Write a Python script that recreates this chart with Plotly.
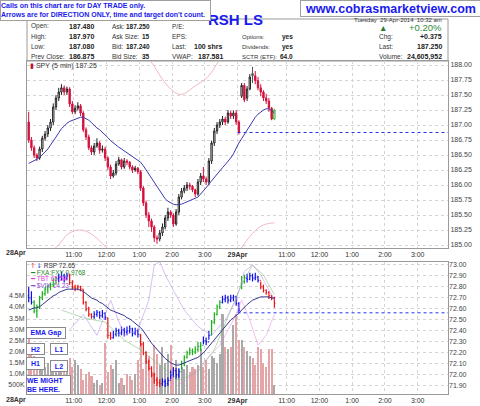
import plotly.graph_objects as go

# ---------------- data ----------------
spy_open = [
187.05,186.75,186.62,186.50,186.45,186.60,186.78,186.85,186.95,187.05,
187.30,187.45,187.55,187.62,187.55,187.60,187.35,187.22,187.28,187.32,
187.20,186.92,186.80,186.62,186.55,186.65,186.70,186.58,186.60,186.45,
186.30,186.15,186.20,186.35,186.42,186.30,186.40,186.38,186.30,186.25,
186.28,186.22,185.95,185.70,185.50,185.40,185.30,185.12,185.10,185.20,
185.30,185.45,185.55,185.50,185.35,185.55,185.80,185.90,185.95,186.00,
185.98,185.92,185.85,186.05,186.15,186.10,186.05,186.40,186.70,186.90,
187.00,187.05,187.10,187.05,187.20,187.15,187.20,187.05,
187.48,187.66,187.45,187.60,187.86,187.82,187.74,187.62,187.55,187.45,187.40,187.28,187.10]
spy_high = [
187.22,186.80,186.66,186.53,186.64,186.82,186.90,187.00,187.10,187.36,
187.50,187.62,187.68,187.66,187.64,187.63,187.40,187.33,187.38,187.35,
187.23,186.96,186.84,186.66,186.70,186.78,186.73,186.66,186.64,186.48,
186.34,186.25,186.40,186.47,186.44,186.45,186.43,186.40,186.33,186.32,
186.30,186.25,185.98,185.74,185.55,185.44,185.33,185.16,185.25,185.36,
185.50,185.62,185.58,185.53,185.60,185.85,185.95,186.00,186.05,186.04,
186.00,185.94,186.10,186.20,186.30,186.14,186.45,186.74,186.95,187.05,
187.10,187.15,187.14,187.25,187.24,187.24,187.25,187.08,
187.70,187.70,187.65,187.85,187.97,187.90,187.80,187.68,187.58,187.52,187.45,187.30,187.27]
spy_low = [
186.70,186.57,186.45,186.40,186.42,186.55,186.74,186.80,186.90,187.00,
187.25,187.40,187.50,187.50,187.50,187.30,187.18,187.18,187.24,187.15,
186.88,186.75,186.58,186.50,186.50,186.62,186.52,186.54,186.40,186.25,
186.10,186.12,186.16,186.32,186.26,186.27,186.33,186.26,186.20,186.22,
186.18,185.90,185.65,185.45,185.30,185.22,185.05,185.02,185.06,185.15,
185.26,185.40,185.45,185.30,185.32,185.50,185.76,185.86,185.90,185.92,
185.88,185.80,185.82,186.00,186.05,186.00,186.00,186.35,186.65,186.85,
186.95,187.00,187.00,187.02,187.10,187.10,187.00,186.84,
187.45,187.38,187.40,187.58,187.70,187.68,187.58,187.48,187.40,187.35,187.22,187.08,187.08]
spy_close = [
186.75,186.62,186.50,186.45,186.60,186.78,186.85,186.95,187.05,187.30,
187.45,187.55,187.62,187.55,187.60,187.35,187.22,187.28,187.32,187.20,
186.92,186.80,186.62,186.55,186.65,186.70,186.58,186.60,186.45,186.30,
186.15,186.20,186.35,186.42,186.30,186.40,186.38,186.30,186.25,186.28,
186.22,185.95,185.70,185.50,185.40,185.30,185.12,185.10,185.20,185.30,
185.45,185.55,185.50,185.35,185.55,185.80,185.90,185.95,186.00,185.98,
185.92,185.85,186.05,186.15,186.10,186.05,186.40,186.70,186.90,187.00,
187.05,187.10,187.05,187.20,187.15,187.20,187.05,186.88,
187.66,187.42,187.60,187.80,187.82,187.74,187.62,187.55,187.45,187.40,187.28,187.10,187.25]
spy_ema = [
186.36,186.38,186.41,186.43,186.46,186.50,186.55,186.60,186.66,186.73,
186.80,186.87,186.94,186.98,187.03,187.06,187.08,187.09,187.11,187.13,
187.13,187.11,187.08,187.04,186.99,186.95,186.92,186.88,186.84,186.79,
186.74,186.70,186.66,186.63,186.60,186.57,186.54,186.51,186.48,186.45,
186.42,186.38,186.32,186.25,186.18,186.10,186.03,185.96,185.89,185.82,
185.77,185.73,185.70,185.68,185.67,185.67,185.68,185.70,185.72,185.74,
185.75,185.77,185.80,185.85,185.90,185.96,186.01,186.07,186.13,186.19,
186.24,186.29,186.34,186.39,186.45,186.52,186.62,186.70,
186.77,186.84,186.92,187.00,187.07,187.13,187.18,187.22,187.25,187.27,187.27,187.24,187.20]
spy_prev_close = 186.875

# faint band segments (None = break)
band_up_bar = [44, 46, 48, 50, 52, 54, 56, 58, 60, 62, 64, 66, 68, 70]
band_up_val = [188.10, 187.98, 187.83, 187.70, 187.60, 187.53, 187.51, 187.55, 187.62, 187.68, 187.74, 187.82, 187.95, 188.10]
band_lo_bar = [8, 11, 14, 17, 19, 21, 24, 27, 30, None, 77, 79, 81, 83, 85, 87, 90]
band_lo_val = [184.90, 185.00, 185.17, 185.24, 185.25, 185.23, 185.15, 185.02, 184.90, None, 184.88, 185.02, 185.14, 185.24, 185.31, 185.35, 185.37]

rsp_open = [
72.72,72.70,72.66,72.58,72.62,72.70,72.74,72.78,72.80,72.82,
72.86,72.88,72.89,72.90,72.88,72.90,72.84,72.80,72.79,72.80,
72.78,72.66,72.60,72.55,72.53,72.55,72.57,72.54,72.56,72.52,
72.36,72.34,72.37,72.40,72.38,72.41,72.39,72.40,72.42,72.38,
72.40,72.37,72.28,72.20,72.12,72.06,72.00,71.95,71.93,71.92,
71.94,71.92,71.95,72.00,72.04,72.00,72.03,72.10,72.16,72.20,
72.22,72.21,72.23,72.26,72.27,72.31,72.30,72.36,72.48,72.55,
72.62,72.66,72.69,72.70,72.68,72.70,72.71,72.65,
72.80,72.85,72.88,72.87,72.90,72.88,72.89,72.86,72.80,72.77,72.75,72.72,72.70]
rsp_high = [
72.80,72.76,72.68,72.64,72.72,72.76,72.80,72.82,72.84,72.88,
72.90,72.92,72.94,72.92,72.93,72.92,72.86,72.82,72.82,72.81,
72.78,72.67,72.62,72.56,72.58,72.59,72.58,72.59,72.57,72.52,
72.39,72.40,72.43,72.42,72.44,72.43,72.44,72.45,72.43,72.43,
72.42,72.37,72.30,72.21,72.14,72.08,72.02,71.98,71.96,71.97,
71.96,71.98,72.04,72.07,72.06,72.06,72.13,72.18,72.22,72.25,
72.24,72.26,72.30,72.30,72.35,72.34,72.40,72.50,72.57,72.64,
72.68,72.72,72.73,72.72,72.73,72.73,72.72,72.66,
72.90,72.91,72.92,72.93,72.92,72.93,72.90,72.85,72.82,72.78,72.76,72.73,72.71]
rsp_low = [
72.66,72.64,72.56,72.52,72.60,72.68,72.72,72.74,72.77,72.80,
72.82,72.84,72.86,72.84,72.86,72.82,72.78,72.76,72.77,72.76,
72.64,72.58,72.53,72.51,72.51,72.53,72.51,72.52,72.50,72.33,
72.32,72.33,72.35,72.35,72.36,72.35,72.36,72.38,72.35,72.36,
72.34,72.26,72.18,72.10,72.04,71.98,71.92,71.90,71.89,71.90,
71.89,71.90,71.96,71.98,71.96,71.97,72.05,72.08,72.15,72.18,
72.18,72.19,72.21,72.22,72.28,72.27,72.32,72.36,72.46,72.54,
72.60,72.65,72.66,72.65,72.66,72.67,72.63,72.57,
72.78,72.83,72.84,72.86,72.85,72.86,72.84,72.78,72.75,72.73,72.69,72.68,72.61]
rsp_close = [
72.70,72.66,72.58,72.62,72.70,72.74,72.78,72.80,72.82,72.86,
72.88,72.89,72.90,72.88,72.90,72.84,72.80,72.79,72.80,72.78,
72.66,72.60,72.55,72.53,72.55,72.57,72.54,72.56,72.52,72.36,
72.34,72.37,72.40,72.38,72.41,72.39,72.40,72.42,72.38,72.40,
72.37,72.28,72.20,72.12,72.06,72.00,71.95,71.93,71.92,71.94,
71.92,71.95,72.00,72.04,72.00,72.03,72.10,72.16,72.20,72.22,
72.21,72.23,72.26,72.27,72.31,72.30,72.36,72.48,72.55,72.62,
72.66,72.69,72.70,72.68,72.70,72.71,72.65,72.59,
72.85,72.88,72.87,72.90,72.88,72.89,72.86,72.80,72.77,72.75,72.72,72.70,72.65]
rsp_impulse = ("bbgggggggg" "gbbbbrrrrr" "rrrrbbbbbr" "rbbbbbbbbb" "brrrrrrrrb"
               "bbbbbbgggg" "ggggbbbggg" "gbbbbbbb" "ggbbbbbrrrrrr")
rsp_ema = [
72.59,72.60,72.61,72.61,72.62,72.64,72.66,72.68,72.70,72.72,
72.73,72.75,72.76,72.77,72.78,72.78,72.78,72.78,72.78,72.77,
72.76,72.74,72.72,72.70,72.69,72.68,72.66,72.65,72.63,72.61,
72.59,72.58,72.57,72.56,72.55,72.54,72.52,72.51,72.49,72.47,
72.45,72.43,72.40,72.36,72.33,72.29,72.26,72.23,72.20,72.18,
72.15,72.13,72.11,72.10,72.09,72.09,72.10,72.11,72.12,72.13,
72.14,72.15,72.16,72.18,72.20,72.23,72.26,72.29,72.33,72.36,
72.39,72.42,72.45,72.48,72.50,72.52,72.54,72.56,
72.59,72.62,72.64,72.66,72.68,72.69,72.70,72.71,72.71,72.71,72.71,72.70,72.70]
rsp_prev_close = 72.565
volume_m = [
2.6,2.0,1.8,1.6,1.5,1.4,1.3,1.5,1.2,1.6,
1.4,1.3,1.5,1.2,1.4,1.7,1.3,1.6,1.4,1.2,
0.7,1.0,1.1,0.9,0.6,0.7,0.5,0.6,2.4,1.1,
1.4,1.2,1.6,0.6,0.8,0.5,1.0,0.9,0.7,1.0,
1.6,2.4,1.2,2.0,1.8,1.1,2.3,1.9,1.4,2.2,
1.5,1.9,2.3,1.3,1.6,1.2,1.3,1.2,1.4,1.1,
1.3,1.2,1.4,2.1,1.3,1.6,1.2,1.8,1.7,1.5,
1.9,3.7,2.2,2.1,2.2,3.2,3.7,2.5,
2.5,2.2,2.0,1.8,1.7,1.4,2.2,2.1,1.5,1.3,2.1,2.1,0.5]

# overlay comparison lines (RSP-scale equivalents)
vix_bar = [15, 20, 25, 30, 35, 40, 44, 46, 48, 50, 53, 57, 62, 67, 72, 76, 79, 82, 85, 88, 90]
vix_val = [72.41, 72.55, 72.36, 72.68, 72.36, 72.41, 72.68, 73.00, 73.03, 72.91, 72.77, 72.59, 72.44, 72.36, 72.50, 72.68, 72.94, 73.00, 72.91, 72.77, 72.68]
tbt_bar = [55, 60, 65, 70, 75, 78, 81, 84, 87, 90]
tbt_val = [71.91, 72.00, 72.14, 72.27, 72.50, 72.68, 72.50, 72.27, 72.36, 72.55]
fx_bar = [12, 20, 28, 35, 42, 48, 55, 62, 68, 74, 78, 82, 86, 90]
fx_val = [72.59, 72.52, 72.48, 72.32, 72.21, 72.09, 71.95, 72.03, 72.23, 72.59, 72.82, 73.00, 72.91, 72.73]

bars = list(range(len(spy_close)))
tick_bar = [18, 30, 42, 54, 66, 78, 96, 108, 120, 132, 144]
tick_text = ['11:00', '12:00', '1:00', '2:00', '3:00', '<b>29Apr</b>',
             '11:00', '12:00', '1:00', '2:00', '3:00']
tick_pos = [b - 1.5 for b in tick_bar]
X_RANGE = [-0.62, 153.6]
day2_start = 78 - 1.5

# ---------------- geometry helpers ----------------
W, H = 480, 406
PL, PR = 27, 448
FONT = 'Liberation Sans, Arial, sans-serif'


def fx(x):
    return (x - PL) / (PR - PL)


def fy(y):
    return 1 - y / H


fig = go.Figure()

# ---------------- top panel (SPY) ----------------
fig.add_trace(go.Scatter(x=band_up_bar, y=band_up_val, mode='lines',
                         line=dict(color='#f2b8c2', width=1, shape='spline'),
                         xaxis='x', yaxis='y', hoverinfo='skip', showlegend=False))
fig.add_trace(go.Scatter(x=band_lo_bar, y=band_lo_val, mode='lines', connectgaps=False,
                         line=dict(color='#f2b8c2', width=1, shape='spline'),
                         xaxis='x', yaxis='y', hoverinfo='skip', showlegend=False))
fig.add_trace(go.Scatter(x=[day2_start, X_RANGE[1]], y=[spy_prev_close] * 2, mode='lines',
                         line=dict(color='#2233ee', width=1, dash='dot'),
                         xaxis='x', yaxis='y', hoverinfo='skip', showlegend=False))
fig.add_trace(go.Scatter(x=bars, y=spy_ema, mode='lines',
                         line=dict(color='#3a3ab0', width=1),
                         xaxis='x', yaxis='y', hoverinfo='skip', showlegend=False))

# split candles by style: hollow (up), red filled (down vs prev), gray filled
groups = {'hollow': ([], [], [], [], []), 'red': ([], [], [], [], []),
          'gray': ([], [], [], [], []), 'last': ([], [], [], [], [])}
for i in bars:
    o, h, l, c = spy_open[i], spy_high[i], spy_low[i], spy_close[i]
    prev = spy_close[i - 1] if i > 0 else o
    if i == bars[-1]:
        k = 'last'
    elif c >= o:
        k = 'hollow'
    elif c < prev:
        k = 'red'
    else:
        k = 'gray'
    g = groups[k]
    g[0].append(i); g[1].append(o); g[2].append(h); g[3].append(l); g[4].append(c)

styles = {
    'hollow': ('#222222', '#ffffff'),
    'red': ('#d4103c', '#d4103c'),
    'gray': ('#555555', '#9a9a9a'),
    'last': ('#33bb33', '#ffffff'),
}
for k, g in groups.items():
    if not g[0]:
        continue
    lc, fc = styles[k]
    fig.add_trace(go.Candlestick(
        x=g[0], open=g[1], high=g[2], low=g[3], close=g[4],
        increasing=dict(line=dict(color=lc, width=1), fillcolor=fc),
        decreasing=dict(line=dict(color=lc, width=1), fillcolor=fc),
        whiskerwidth=0, xaxis='x', yaxis='y', hoverinfo='skip', showlegend=False))

# ---------------- bottom panel (RSP + volume) ----------------
vol_colors = ['#e3a5a8' if spy_close[i] < spy_open[i] else '#a9a9a9' for i in bars]
fig.add_trace(go.Bar(x=bars, y=volume_m, marker=dict(color=vol_colors, line=dict(width=0)),
                     width=0.75, xaxis='x2', yaxis='y2', hoverinfo='skip', showlegend=False))

for vals_x, vals_y, col in [(fx_bar, fx_val, 'rgba(120,190,120,0.55)'),
                            (tbt_bar, tbt_val, 'rgba(235,130,220,0.5)'),
                            (vix_bar, vix_val, 'rgba(190,150,235,0.6)')]:
    fig.add_trace(go.Scatter(x=vals_x, y=vals_y, mode='lines',
                             line=dict(color=col, width=1),
                             xaxis='x2', yaxis='y3', hoverinfo='skip', showlegend=False))

fig.add_trace(go.Scatter(x=[day2_start, X_RANGE[1]], y=[rsp_prev_close] * 2, mode='lines',
                         line=dict(color='#2233ee', width=1, dash='dot'),
                         xaxis='x2', yaxis='y3', hoverinfo='skip', showlegend=False))
fig.add_trace(go.Scatter(x=bars, y=rsp_ema, mode='lines',
                         line=dict(color='#353590', width=1),
                         xaxis='x2', yaxis='y3', hoverinfo='skip', showlegend=False))

imp_colors = {'g': '#16b016', 'b': '#1010ee', 'r': '#ee1010'}
for key, col in imp_colors.items():
    xs, os_, hs, ls, cs = [], [], [], [], []
    for i in bars:
        if rsp_impulse[i] == key:
            xs.append(i); os_.append(rsp_open[i]); hs.append(rsp_high[i])
            ls.append(rsp_low[i]); cs.append(rsp_close[i])
    fig.add_trace(go.Ohlc(x=xs, open=os_, high=hs, low=ls, close=cs, tickwidth=0.35,
                          increasing=dict(line=dict(color=col, width=1.2)),
                          decreasing=dict(line=dict(color=col, width=1.2)),
                          xaxis='x2', yaxis='y3', hoverinfo='skip', showlegend=False))

# ---------------- axes ----------------
grid = dict(showgrid=True, gridcolor='#d4d4d4', griddash='dot', gridwidth=1, zeroline=False)
xcommon = dict(range=X_RANGE, tickmode='array', tickvals=tick_pos, ticktext=tick_text,
               tickfont=dict(size=7, color='#333', family=FONT), ticks='',
               showline=True, linecolor='#9a9a9a', linewidth=1, mirror=True,
               rangeslider=dict(visible=False), **grid)
yfont = dict(size=7, color='#444', family=FONT)

fig.update_layout(
    width=W, height=H,
    margin=dict(l=PL, r=W - PR, t=0, b=0),
    paper_bgcolor='white', plot_bgcolor='white',
    showlegend=False,
    xaxis=dict(domain=[0, 1], anchor='y', **xcommon),
    yaxis=dict(domain=[fy(248), fy(61)], anchor='x', side='right',
               range=[184.95, 188.067], tickmode='linear', tick0=185, dtick=0.25,
               tickformat='.2f', tickfont=yfont, ticks='', showline=True,
               linecolor='#9a9a9a', mirror=True, **grid),
    xaxis2=dict(domain=[0, 1], anchor='y2', **xcommon),
    yaxis2=dict(domain=[fy(394), fy(262)], anchor='x2', side='left',
                range=[0.09, 6.02], tickmode='array',
                tickvals=[0.5, 1.0, 1.5, 2.0, 2.5, 3.0, 3.5, 4.0, 4.5],
                ticktext=['500K', '1.0M', '1.5M', '2.0M', '2.5M', '3.0M', '3.5M', '4.0M', '4.5M'],
                tickfont=yfont, ticks='', showgrid=False, zeroline=False,
                showline=True, linecolor='#9a9a9a', mirror=True),
    yaxis3=dict(overlaying='y2', anchor='x2', side='right',
                range=[71.827, 73.027], tickmode='linear', tick0=71.9, dtick=0.1,
                tickformat='.2f', tickfont=yfont, ticks='', **grid),
    bargap=0,
)

# ---------------- text / annotations ----------------


def txt(x, y, s, size=7, color='#222', anchor='left', family=FONT):
    fig.add_annotation(x=fx(x), y=fy(y), xref='paper', yref='paper', text=s,
                       showarrow=False, xanchor=anchor, yanchor='middle',
                       font=dict(size=size, color=color, family=family), borderpad=0)


def box(x0, y0, x1, y1, s, size=7, color='#1a1aee', border='#8a8a8a', align='center'):
    fig.add_annotation(x=fx((x0 + x1) / 2), y=fy((y0 + y1) / 2), xref='paper', yref='paper',
                       text=s, showarrow=False, xanchor='center', yanchor='middle',
                       width=x1 - x0 - 2, height=y1 - y0 - 2, align=align, valign='middle',
                       bgcolor='white', bordercolor=border, borderwidth=1, borderpad=0,
                       font=dict(size=size, color=color, family=FONT))


# header frame
fig.add_shape(type='rect', xref='paper', yref='paper', x0=fx(PL), x1=fx(PR), y0=fy(61), y1=fy(19),
              line=dict(color='#9a9a9a', width=1), fillcolor='rgba(0,0,0,0)', layer='below')

# header rows
LS = 6.5
rows = [26, 36.7, 46.7, 56.7]
txt(443, 19.5, 'Tuesday  29-Apr-2014  10:32 am', size=6, color='#333', anchor='right')
for lab, val, y in zip(['Open:', 'High:', 'Low:', 'Prev Close:'],
                       ['187.480', '187.970', '187.080', '186.875'], rows):
    txt(30, y, lab, size=LS, color='#333')
    txt(68, y, '<b>%s</b>' % val)
for lab, val, y in zip(['Ask:', 'Ask Size:', 'Bid:', 'Bid Size:'],
                       ['187.250', '15', '187.240', '35'], rows):
    txt(111, y, lab, size=LS, color='#333')
    txt(151, y, '<b>%s</b>' % val, size=6.5, anchor='right')
for lab, val, y in zip(['P/E:', 'EPS:', 'Last:', 'VWAP:'],
                       ['', '', '100 shrs', '187.581'], rows):
    txt(171, y, lab, size=LS, color='#333')
    if val:
        txt(224, y, '<b>%s</b>' % val, anchor='right')
for lab, val, y in zip(['Options:', 'Dividends:', 'SCTR (ETF):'], ['yes', 'yes', '64.0'], rows[1:]):
    txt(241, y, lab, size=6, color='#333')
    txt(294, y, '<b>%s</b>' % val, size=6.5, anchor='right')
for lab, val, y in zip(['Chg:', 'Last:', 'Volume:'], ['+0.375', '187.250', '24,605,952'], rows[1:]):
    txt(378, y, lab, size=LS, color='#333')
    txt(443, y, '<b>%s</b>' % val, anchor='right')
txt(443, 27.5, '+0.20%', size=9.5, color='#2e8b3a', anchor='right')
txt(383, 27.5, '▲', size=8.5, color='#2e7d32', anchor='center')

# title
txt(235, 19.5, '<b>RSH LS</b>', size=15, color='#1a1aee', anchor='center')

# callout boxes at top
box(0, 0, 211, 21, '<b>Calls on this chart are for DAY TRADE only.<br>'
    'Arrows are for DIRECTION ONLY, time and target don\'t count.</b>',
    size=7, align='left', border='#a0a0a0')
box(300, 0, 481, 17, '<b>www.cobrasmarketview.com</b>', size=12.5, border='#a0a0a0')

# panel legends
txt(29, 66, '<span style="color:#c01030">▮</span> SPY (5 min) 187.25', size=7, color='#333')
txt(29, 265.5, '<span style="color:#ee1010">↿</span><span style="color:#1010ee">⇂</span> RSP 72.65', size=6.5, color='#333')
txt(29, 272, '<span style="color:#2a8a2a">━</span> FXA:FXY 0.9768', size=6.5, color='#2a8a2a')
txt(29, 278.5, '<span style="color:#e040e0">━</span> TBT 65.54', size=6.5, color='#e040e0')
txt(29, 285, '<span style="color:#8a50d0">━</span> $VIX 14.23', size=6.5, color='#8a50d0')

# first-day labels at the left edge
txt(16, 253, '<b>28Apr</b>', size=7, color='#333', anchor='center')
txt(16, 400, '<b>28Apr</b>', size=7, color='#333', anchor='center')

# note boxes in lower panel
box(26, 327, 66, 339, '<b>EMA Gap</b>')
box(26, 343, 45, 355, '<b>H2</b>')
box(50, 343, 68, 355, '<b>L1</b>')
box(26, 357, 45, 370, '<b>H1</b>')
box(50, 360, 68, 372, '<b>L2</b>')
box(26, 375, 71, 395, '<b>WE MIGHT<br>BE HERE.</b>', align='left')

fig.write_html('out.html')
